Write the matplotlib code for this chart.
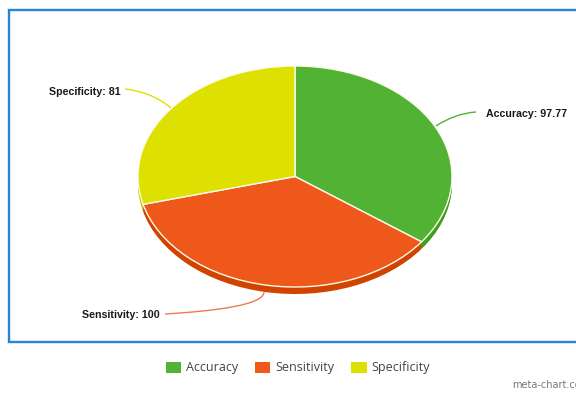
"""meta-chart 风格的伪 3D 饼图。"""

from matplotlib import pyplot as plt
from matplotlib.patches import PathPatch, Patch
from matplotlib.path import Path

categories = ["Accuracy", "Sensitivity", "Specificity"]
values = [97.77, 100, 81]
value_labels = ["97.77", "100", "81"]
top_colors = ["#52b233", "#ee581b", "#dde000"]
side_colors = ["#3f9e20", "#d14300", "#c4c700"]

W, H = 576, 394
CX, CY, RX, RY = 295, 176.5, 157, 110.5
DEPTH = 7


def px_rect(x0, y0, x1, y1):
    """像素坐标（左上原点）转 figure 坐标 [l, b, w, h]。"""
    return [x0 / W, 1 - y1 / H, (x1 - x0) / W, (y1 - y0) / H]


fig = plt.figure(figsize=(W / 100, H / 100), dpi=100, facecolor="white")

# 饼图：单位圆拉伸成椭圆
ax = fig.add_axes(px_rect(CX - RX, CY - RY, CX + RX, CY + RY))
for step in range(DEPTH, 0, -1):
    ax.pie(values, colors=side_colors, startangle=90, counterclock=False,
           center=(0, -step / RY), radius=1, frame=True,
           wedgeprops={"linewidth": 0})
wedges, _ = ax.pie(values, colors=top_colors, startangle=90, counterclock=False,
                   center=(0, 0), radius=1, frame=True,
                   wedgeprops={"linewidth": 1.0, "edgecolor": "#fbfbe8"})
ax.set_aspect("auto")
ax.set_xlim(-1, 1)
ax.set_ylim(-1, 1)
ax.axis("off")
for patch in ax.patches:
    patch.set_clip_on(False)

# 覆盖层：边框、引线、标注（像素坐标）
over = fig.add_axes([0, 0, 1, 1], facecolor="none")
over.set_xlim(0, W)
over.set_ylim(H, 0)
over.axis("off")

over.plot([W, 8.5, 8.5, W], [9.5, 9.5, 342, 342], color="#2a84d6", lw=1.7,
          solid_joinstyle="miter", clip_on=False)

leaders = [
    ([(436, 126), (448, 118), (462, 113), (476, 112)], top_colors[0]),
    ([(264, 292), (264, 305), (215, 311), (165, 314)], "#ee7a50"),
    ([(171, 108), (158, 97), (142, 91), (125, 89)], top_colors[2]),
]
for pts, color in leaders:
    path = Path(pts, [Path.MOVETO, Path.CURVE4, Path.CURVE4, Path.CURVE4])
    over.add_patch(PathPatch(path, fill=False, edgecolor=color, lw=1.0))

label_pos = [(486, 114, "left"), (160, 315.5, "right"), (121, 91.5, "right")]
for name, val, (x, y, ha) in zip(categories, value_labels, label_pos):
    over.text(x, y, f"{name}: {val}", ha=ha, va="center", fontsize=7.7,
              fontweight="bold", family="Liberation Sans", color="#1a1a1a")

over.text(512, 385, "meta-chart.com", ha="left", va="center", fontsize=7.0,
          family="DejaVu Sans", color="#777777", clip_on=True)

handles = [Patch(facecolor=c, edgecolor="none") for c in top_colors]
fig.legend(handles, categories, loc="center", bbox_to_anchor=(297.5 / W, 1 - 368 / H),
           ncol=3, frameon=False, handlelength=1.25, handleheight=1.0,
           handletextpad=0.36, columnspacing=1.36, labelcolor="#444444",
           prop={"family": "Open Sans", "size": 9})

fig.savefig("out.png", dpi=100)
